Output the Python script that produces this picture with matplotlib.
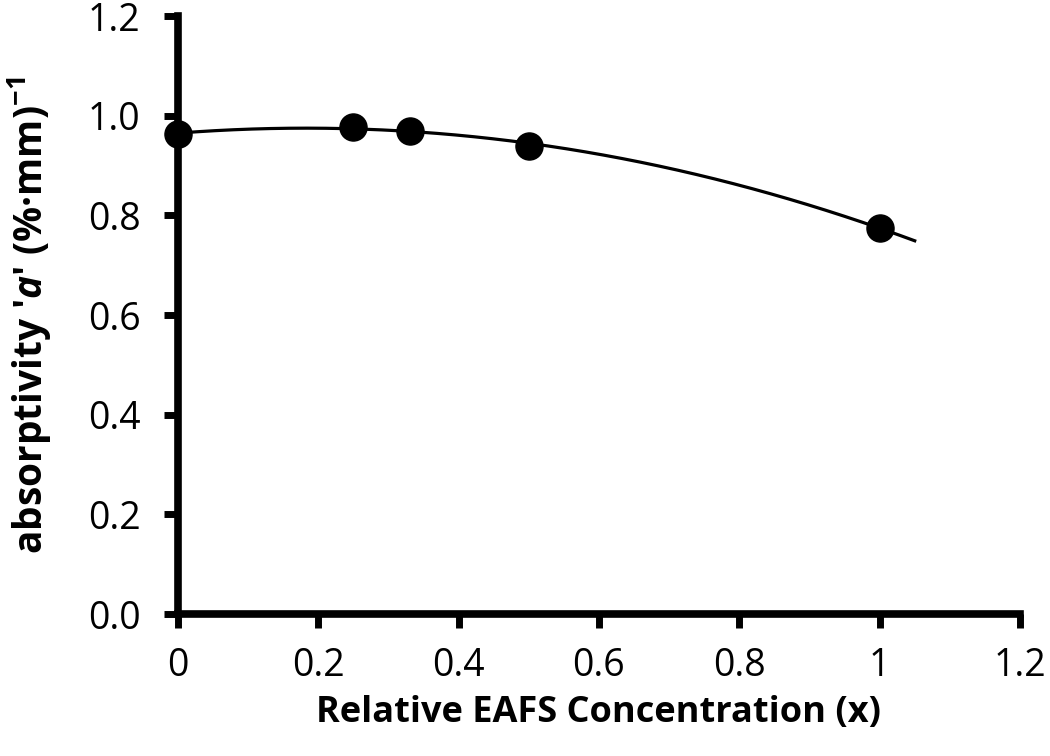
import numpy as np
import matplotlib
matplotlib.use("Agg")
import matplotlib.pyplot as plt

# relative EAFS concentration vs absorptivity
conc = [0.0, 0.25, 0.33, 0.5, 1.0]
absorb = [0.963, 0.978, 0.970, 0.940, 0.775]
x_ticks = [0, 0.2, 0.4, 0.6, 0.8, 1, 1.2]
x_tick_labels = ["0", "0.2", "0.4", "0.6", "0.8", "1", "1.2"]
y_ticks = [0.0, 0.2, 0.4, 0.6, 0.8, 1.0, 1.2]

plt.rcParams["font.family"] = ["Open Sans", "DejaVu Sans"]
plt.rcParams["mathtext.fontset"] = "custom"
plt.rcParams["mathtext.rm"] = "Open Sans:bold"
plt.rcParams["mathtext.it"] = "Open Sans:italic:bold"
plt.rcParams["mathtext.bf"] = "Open Sans:bold"

fig = plt.figure(figsize=(10.5, 7.56), dpi=100)
ax = fig.add_axes([0.1695, 0.1878, 0.8019, 0.791])

# second order trendline through the points
coef = np.polyfit(conc, absorb, 2)
xs = np.linspace(0, 1.05, 200)
ax.plot(xs, np.polyval(coef, xs), color="black", lw=2.3, zorder=2)
ax.plot(conc, absorb, "o", color="black", ms=19.5, zorder=3, clip_on=False)

ax.set_xlim(0, 1.2)
ax.set_ylim(0, 1.2)
ax.set_xticks(x_ticks)
ax.set_xticklabels(x_tick_labels)
ax.set_yticks(y_ticks)
ax.set_yticklabels([f"{v:.1f}" for v in y_ticks])

for s in ["top", "right"]:
    ax.spines[s].set_visible(False)
for s in ["left", "bottom"]:
    ax.spines[s].set_linewidth(5.5)
ax.tick_params(direction="out", length=10, width=5, labelsize=27)
ax.tick_params(axis="y", pad=17)
ax.tick_params(axis="x", pad=14)

ax.set_xlabel("Relative EAFS Concentration (x)", fontsize=26, fontweight="bold")
ax.set_ylabel(r"absorptivity '$\mathit{a}$' (%·mm)$^{-1}$", fontsize=28, fontweight="bold")
ax.xaxis.set_label_coords(0.5, -0.135)
ax.yaxis.set_label_coords(-0.148, 0.5)

fig.savefig("out.png", dpi=100)
